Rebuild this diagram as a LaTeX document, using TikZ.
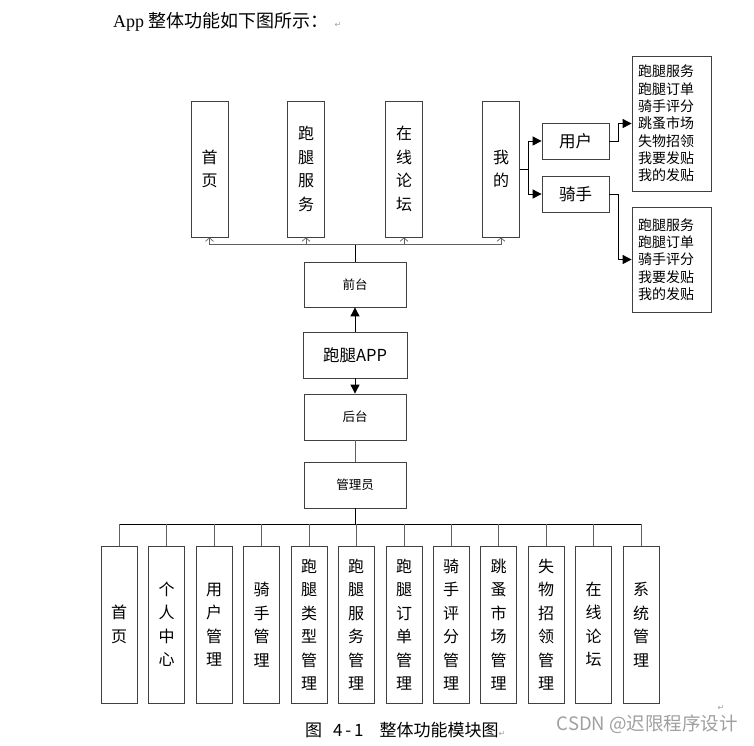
\documentclass[tikz,border=0pt]{standalone}
\usepackage{fontspec}
\setmainfont{Liberation Serif}
\newfontfamily\cjk{Noto Sans CJK SC}
\newfontfamily\dv{DejaVu Sans}
\usetikzlibrary{arrows.meta,calc}
\definecolor{boxc}{HTML}{404040}
\definecolor{linec}{HTML}{606060}
\definecolor{wm}{HTML}{A0A0A0}
\begin{document}
\begin{tikzpicture}[x=1pt,y=-1pt,
  vbox/.style={draw=boxc, line width=0.8pt, minimum width=37pt, inner sep=0pt,
    font=\cjk\fontsize{16}{23.5}\selectfont, align=center},
  topbox/.style={vbox, minimum height=136pt},
  botbox/.style={vbox, minimum height=157pt, minimum width=36pt},
  hbox/.style={draw=boxc, line width=0.8pt, minimum width=102pt, minimum height=45pt, inner sep=0pt,
    font=\cjk\fontsize{12.5}{14}\selectfont},
  rolebox/.style={draw=boxc, line width=0.8pt, minimum width=67pt, minimum height=36pt, inner sep=0pt,
    font=\cjk\fontsize{16.5}{18}\selectfont},
  listbox/.style={draw=boxc, line width=0.8pt, text width=67pt, inner xsep=6pt, inner ysep=0pt,
    align=left, font=\cjk\fontsize{14}{17.3}\selectfont},
  fillarrow/.style={line width=0.9pt, -{Triangle[length=9pt,width=9pt]}},
  openarrow/.style={draw=linec, line width=0.7pt, -{Straight Barb[length=3.5pt,width=8pt]}},
  busline/.style={line width=0.9pt},
  thinline/.style={draw=linec, line width=0.7pt}
]
\fill[white] (0,0) rectangle (754,745);
\useasboundingbox (0,0) rectangle (754,745);

% header
\node[anchor=west, inner sep=0pt, font=\fontsize{18}{20}\selectfont] (head) at (113,22)
  {App \cjk 整体功能如下图所示：\hspace{6pt}{\dv\fontsize{8}{9}\selectfont\color{wm}↵}};

% top boxes
\node[topbox] (h1) at (209.5,169) {首\\页};
\node[topbox] (h2) at (306,169) {跑\\腿\\服\\务};
\node[topbox] (h3) at (404,169) {在\\线\\论\\坛};
\node[topbox] (h4) at (501,169) {我\\的};

% centre column
\node[hbox] (qt) at (355,284.5) {前台};
\node[hbox, minimum width=104pt, minimum height=46pt, font=\cjk\fontsize{16.5}{18}\selectfont] (app) at (355,355) {跑腿APP};
\node[hbox, minimum height=46pt] (ht) at (355,417) {后台};
\node[hbox, minimum height=46pt] (gly) at (355,485) {管理员};

% right side
\node[rolebox] (yh) at (575.5,141) {用户};
\node[rolebox] (qs) at (575.5,194) {骑手};
\node[listbox, minimum height=135pt] (r1) at (671.5,123.5)
  {跑腿服务\\跑腿订单\\骑手评分\\跳蚤市场\\失物招领\\我要发贴\\我的发贴};
\node[listbox, minimum height=105pt] (r2) at (671.5,259.5)
  {跑腿服务\\跑腿订单\\骑手评分\\我要发贴\\我的发贴};

% bottom boxes
\node[botbox] (b1) at (119,624.5) {首\\页};
\node[botbox] (b2) at (166.5,624.5) {个\\人\\中\\心};
\node[botbox] (b3) at (214,624.5) {用\\户\\管\\理};
\node[botbox] (b4) at (261.5,624.5) {骑\\手\\管\\理};
\node[botbox] (b5) at (309,624.5) {跑\\腿\\类\\型\\管\\理};
\node[botbox] (b6) at (356,624.5) {跑\\腿\\服\\务\\管\\理};
\node[botbox] (b7) at (404,624.5) {跑\\腿\\订\\单\\管\\理};
\node[botbox] (b8) at (451,624.5) {骑\\手\\评\\分\\管\\理};
\node[botbox] (b9) at (498.5,624.5) {跳\\蚤\\市\\场\\管\\理};
\node[botbox] (b10) at (546,624.5) {失\\物\\招\\领\\管\\理};
\node[botbox] (b11) at (593.5,624.5) {在\\线\\论\\坛};
\node[botbox] (b12) at (641,624.5) {系\\统\\管\\理};

% caption and watermark
\node[anchor=west, inner sep=0pt, font=\cjk\fontsize{17}{19}\selectfont] (cap) at (305,730)
  {图\hspace{11pt}4\,-\,1\hspace{16pt}整体功能模块图{\dv\fontsize{8}{9}\selectfont\color{wm}↵}};
\node[anchor=east, inner sep=0pt, text=wm, font=\cjk\fontsize{18.5}{20}\selectfont] (mark) at (738,724)
  {CSDN @迟限程序设计};
\node[inner sep=0pt, text=wm, font=\dv\fontsize{8}{9}\selectfont] (ret) at (721,708) {↵};

% top bus
\coordinate (tbus) at ($(qt.north)+(0,-17)$);
\draw[busline, line width=0.8pt] (qt.north) -- (tbus);
\draw[thinline] (h1.south |- tbus) -- (h4.south |- tbus);
\foreach \b in {h1,h2,h3,h4} \draw[openarrow] (\b.south |- tbus) -- (\b.south);

% centre arrows
\draw[fillarrow] (app.north) -- (qt.south);
\draw[fillarrow] (app.south) -- (ht.north);
\draw[thinline] (ht.south) -- (gly.north);

% bottom bus
\coordinate (bbus) at ($(gly.south)+(0,16)$);
\draw[busline] (gly.south) -- (bbus);
\draw[busline] (b1.north |- bbus) -- (b12.north |- bbus);
\foreach \b in {b1,b2,b3,b4,b5,b6,b7,b8,b9,b10,b11,b12} \draw[thinline] (\b.north |- bbus) -- (\b.north);

% right side connectors
\coordinate (split) at ($(h4.east)+(9,0)$);
\draw[busline] (h4.east) -- (split);
\draw[fillarrow] (split) |- (yh.west);
\draw[fillarrow] (split) |- (qs.west);
\draw[fillarrow] (yh.east) -- ++(9,0) |- (r1.west);
\draw[fillarrow] (qs.east) -- ++(9,0) |- (r2.west);
\end{tikzpicture}
\end{document}
